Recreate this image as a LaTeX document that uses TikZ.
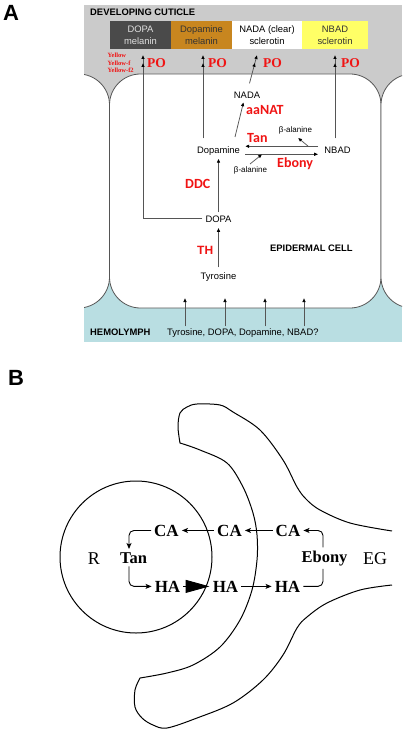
\documentclass[tikz,border=0pt]{standalone}
\usepackage{fontspec}
\setmainfont{Liberation Sans}
\newfontfamily\tnr{Liberation Serif}
\newfontfamily\calib{Carlito}
\usetikzlibrary{arrows.meta,decorations.markings}
\definecolor{cutgray}{HTML}{CBCBCB}
\definecolor{hemoc}{HTML}{B9DEE2}
\definecolor{dmel}{HTML}{4A4A4A}
\definecolor{dpmel}{HTML}{C8861F}
\definecolor{nbadc}{HTML}{FFFF66}
\definecolor{enz}{HTML}{F01414}
\definecolor{lin}{HTML}{555555}
\newcommand\fsz[1]{\fontsize{#1}{#1}\selectfont}
\begin{document}
\begin{tikzpicture}[x=1pt,y=-1pt,
  txt/.style={font=\fsz{9.4}, inner sep=3pt, anchor=base},
  bold/.style={font=\bfseries\fsz{9.4}, inner sep=0pt, anchor=base west},
  enzl/.style={font=\calib\bfseries\fsz{14}, text=enz, inner sep=0pt, anchor=base west},
  pol/.style={font=\tnr\bfseries\fsz{13.5}, text=enz, inner sep=0pt, anchor=base west},
  yel/.style={font=\tnr\bfseries\fsz{6.5}, text=enz, inner sep=0pt, anchor=base west},
  beta/.style={font=\fsz{8}, inner sep=3pt, anchor=base},
  boxn/.style={minimum height=28pt, inner sep=0pt, align=center, font=\fontsize{9.4}{11.7}\selectfont},
  cellline/.style={draw=lin, line width=0.8pt, fill=white, rounded corners=31pt},
  arr/.style={draw=lin, line width=0.75pt, -{Latex[length=4pt,width=3.6pt,color=black]}},
  dbl/.style={arr, postaction={decorate}, decoration={markings,
     mark=at position -8pt with {\arrow{Latex[length=4pt,width=3.6pt,color=black]}}}},
  panel/.style={font=\bfseries\fsz{22}, inner sep=0pt, anchor=base},
  ca/.style={font=\tnr\bfseries\fsz{17}, inner sep=3pt, anchor=base},
  bl/.style={font=\tnr\bfseries\fsz{16.5}, inner sep=3pt, anchor=base},
  rl/.style={font=\tnr\fsz{18}, inner sep=0pt, anchor=base},
  barr/.style={line width=0.9pt, -{Stealth[length=6pt,width=5pt,inset=1.5pt]}, rounded corners=5pt},
  outl/.style={line width=1pt}
]
\useasboundingbox[fill=white] (0,0) rectangle (402,730);

% ---------------- Panel A ----------------
\node[panel] (A) at (11,21) {A};
\begin{scope}
  \clip (84,5) rectangle (402,342);
  \fill[cutgray] (84,5) rectangle (402,110);
  \fill[hemoc] (84,265) rectangle (402,342);
  \draw[cellline] (-100,74) rectangle (109.5,308);
  \draw[cellline] (109.5,74) rectangle (381,308);
  \draw[cellline] (381,74) rectangle (600,308);
\end{scope}

\node[bold] (dev) at (90,16) {DEVELOPING CUTICLE};
\node[boxn, fill=dmel, text=black!12, minimum width=61pt] (b1) at (140.5,35.3) {DOPA\\melanin};
\node[boxn, fill=dpmel, text=black!80, minimum width=61pt] (b2) at (201.5,35.3) {Dopamine\\melanin};
\node[boxn, fill=white, text=black, minimum width=70pt] (b3) at (267,35.3) {NADA (clear)\\sclerotin};
\node[boxn, fill=nbadc, text=black!80, minimum width=66pt] (b4) at (335,35.3) {NBAD\\sclerotin};

\node[yel] (y1) at (107.5,58) {Yellow};
\node[yel] (y2) at (107.5,65.5) {Yellow-f};
\node[yel] (y3) at (107.5,73) {Yellow-f2};
\node[pol] (po1) at (147,68) {PO};
\node[pol] (po2) at (208,68) {PO};
\node[pol] (po3) at (263,68) {PO};
\node[pol] (po4) at (341,68) {PO};

\node[txt] (NADA) at (247,99) {NADA};
\node[enzl] (aaNAT) at (246,115) {aaNAT};
\node[txt] (Dopamine) at (218.5,153.5) {Dopamine};
\node[enzl] (Tan) at (247,143) {Tan};
\node[enzl] (Ebony) at (277,167.5) {Ebony};
\node[beta] (bup) at (295.5,133) {β-alanine};
\node[beta] (blo) at (250.5,173) {β-alanine};
\node[txt] (NBAD) at (337.5,154) {NBAD};
\node[enzl] (DDC) at (185,189) {DDC};
\node[txt] (DOPA) at (218.5,222) {DOPA};
\node[font=\bfseries\fsz{12}, text=enz, inner sep=0pt, anchor=base west] (TH) at (197,254) {TH};
\node[bold] (epi) at (270,251) {EPIDERMAL CELL};
\node[txt] (Tyr) at (218.5,279) {Tyrosine};
\node[bold] (hemo) at (90,335) {HEMOLYMPH};
\node[txt, anchor=base west, inner sep=0pt] (hemotext) at (167,335) {Tyrosine, DOPA, Dopamine, NBAD?};

\coordinate (t1) at (143,55);
\coordinate (t2) at (203,55);
\coordinate (t3) at (257,55);
\coordinate (t4) at (335,55);
\draw[dbl] (DOPA.west) -| (t1);
\draw[dbl, shorten <=5pt] (Dopamine.north -| t2) -- (t2);
\draw[dbl] ([xshift=2.5pt,yshift=6pt]NADA.north) -- (t3);
\draw[dbl, shorten <=6pt] (NBAD.north -| t4) -- (t4);

\draw[arr] ([xshift=16.5pt,yshift=6.5pt]Dopamine.north) -- ([xshift=-3.5pt]NADA.south);
\draw[arr] (DOPA.north) -- (Dopamine.south);
\draw[arr, shorten <=1.5pt, shorten >=2.5pt] (Tyr.north) -- (DOPA.south);

\coordinate (tanR) at ([xshift=-3pt,yshift=4.5pt]NBAD.west);
\coordinate (ebR) at ([xshift=-3pt,yshift=-3.5pt]NBAD.west);
\coordinate (ebL) at (ebR -| Dopamine.east);
\draw[arr, shorten >=2pt] (tanR) -- (tanR -| Dopamine.east);
\draw[arr, shorten <=2pt] (ebL) -- (ebR);
\coordinate (bu) at ([xshift=-10pt]tanR);
\coordinate (blw) at ([xshift=19pt]ebL);
\draw[arr] (bu) -- ([xshift=2.5pt]bup.south);
\draw[arr] ([xshift=-0.5pt]blo.north) -- (blw);

\coordinate (h1) at (185,298);
\coordinate (h2) at (225,298);
\coordinate (h3) at (265,298);
\coordinate (h4) at (304,298);
\foreach \h in {h1,h2,h3,h4}
  \draw[arr, shorten <=1.5pt] (\h |- hemotext.north) -- (\h);

% ---------------- Panel B ----------------
\node[panel] (B) at (16,385) {B};
\draw[outl] (136,557) circle[radius=76pt];
\draw[outl] plot[smooth, tension=0.55] coordinates {(392,531) (350,523) (320,510) (306,499) (297,487) (283,460) (260,430) (233,412) (220,405) (197,404) (187,407) (180,413) (178,427) (180,443)}
  -- plot[smooth, tension=0.55] coordinates {(180,443) (200,450) (227,463) (243,487) (253,513) (257,535) (257,560) (252,590) (240,620) (220,647) (193,665) (167,673) (140,678)}
  -- plot[smooth, tension=0.55] coordinates {(140,678) (135,690) (135,707) (142,718) (153,725) (167,728) (197,718) (233,703) (263,680) (283,655) (297,628) (307,617) (327,603) (360,590) (392,585)};

\node[rl] (R) at (94,564) {R};
\node[rl] (EG) at (375,564) {EG};
\node[bl] (TanB) at (133.5,563) {Tan};
\node[bl] (EbonyB) at (324.5,562) {Ebony};
\node[ca] (CA1) at (166.5,536) {CA};
\node[ca] (CA2) at (229.5,536) {CA};
\node[ca] (CA3) at (288,536) {CA};
\node[ca] (HA1) at (167.5,592) {HA};
\node[ca] (HA2) at (225.5,592) {HA};
\node[ca] (HA3) at (287.5,592) {HA};

\draw[barr] ([xshift=-1.5pt]EbonyB.north) |- (CA3.east);
\draw[barr] (CA3.west) -- (CA2.east);
\draw[barr] (CA2.west) -- (CA1.east);
\draw[barr] (CA1.west) -| ([xshift=-4.5pt]TanB.north);
\draw[barr] ([xshift=-4.5pt]TanB.south) |- (HA1.west);
\draw[line width=0.9pt, -{Triangle[length=24pt,width=13pt]}] (HA1.east) -- (HA2.west);
\draw[barr] (HA2.east) -- (HA3.west);
\draw[line width=0.9pt, rounded corners=5pt] (HA3.east) -| ([xshift=-1.5pt]EbonyB.south);
\end{tikzpicture}
\end{document}
